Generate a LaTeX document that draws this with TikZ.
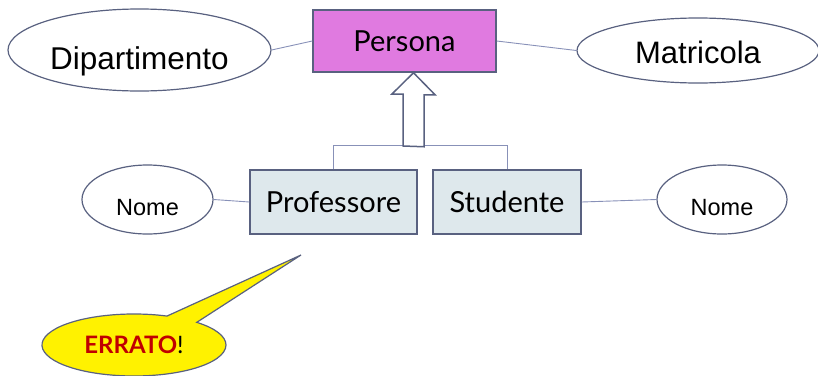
\documentclass[tikz,border=0pt]{standalone}
\usepackage{fontspec}
\newfontfamily\gillf{Lato}
\newfontfamily\arialf{Liberation Sans}
\usetikzlibrary{shapes.geometric,shapes.callouts}
\definecolor{edgec}{HTML}{596180}
\definecolor{connc}{HTML}{8891B8}
\definecolor{persc}{HTML}{E07AE0}
\definecolor{entc}{HTML}{DEE8EC}
\definecolor{errc}{HTML}{C00000}
\begin{document}
\begin{tikzpicture}[x=1pt,y=1pt,
  entity/.style={rectangle, draw=edgec, line width=1.5pt, inner sep=0pt,
    font=\gillf\fontsize{29}{34}\selectfont, text height=21pt, text depth=0pt},
  attr/.style={ellipse, draw=edgec, line width=1.2pt, fill=white, inner sep=0pt},
  link/.style={draw=connc, line width=0.9pt}]
\useasboundingbox (0,0) rectangle (818,-375);
% entities
\node[entity, fill=persc, minimum width=183pt, minimum height=62pt] (persona) at (404.5,-41) {Persona};
\node[entity, fill=entc, minimum width=167pt, minimum height=64pt] (prof) at (333.5,-202) {Professore};
\node[entity, fill=entc, minimum width=148pt, minimum height=64pt] (stud) at (507,-202) {Studente};
% attributes
\node[attr, minimum width=263pt, minimum height=82pt, font=\arialf\fontsize{31.5}{36}\selectfont, text height=39.5pt, text depth=0pt] (dip) at (139.5,-50) {Dipartimento};
\node[attr, minimum width=242pt, minimum height=65pt, font=\arialf\fontsize{31}{36}\selectfont, text height=26.2pt, text depth=0pt] (matr) at (698,-50.5) {Matricola};
\node[attr, minimum width=131pt, minimum height=69pt, font=\arialf\fontsize{23.5}{28}\selectfont, text height=32.8pt, text depth=0pt] (nome1) at (147.5,-199.5) {Nome};
\node[attr, minimum width=130pt, minimum height=69pt, font=\arialf\fontsize{23.5}{28}\selectfont, text height=32.8pt, text depth=0pt] (nome2) at (722,-199.5) {Nome};
% attribute links
\draw[link] (dip.east) -- (persona.west);
\draw[link] (persona.east) -- (matr.west);
\draw[link] (nome1.east) -- (prof.west);
\draw[link] (stud.east) -- (nome2.west);
% generalization
\coordinate (isa) at (413.5,-146);
\draw[link] (prof.north) -- ++(0,24) -| (stud.north);
\draw[draw=edgec, line width=1.5pt, fill=white, line join=miter]
  (isa) ++(-10.5,0) -- ++(0,52) -- ++(-11,0) -- (persona.south -| isa) -- ++(21.5,-22) -- ++(-11,0) -- ++(0,-52) -- cycle;
% callout
\node[ellipse callout, draw=edgec, line width=1.2pt, fill=yellow, inner sep=0pt,
  minimum width=184pt, minimum height=62pt,
  callout absolute pointer={(301,-255)}, callout pointer arc=22,
  font=\gillf\fontsize{24}{28}\selectfont] (errato) at (134,-345) {\textcolor{errc}{\bfseries ERRATO}!};
\end{tikzpicture}
\end{document}
